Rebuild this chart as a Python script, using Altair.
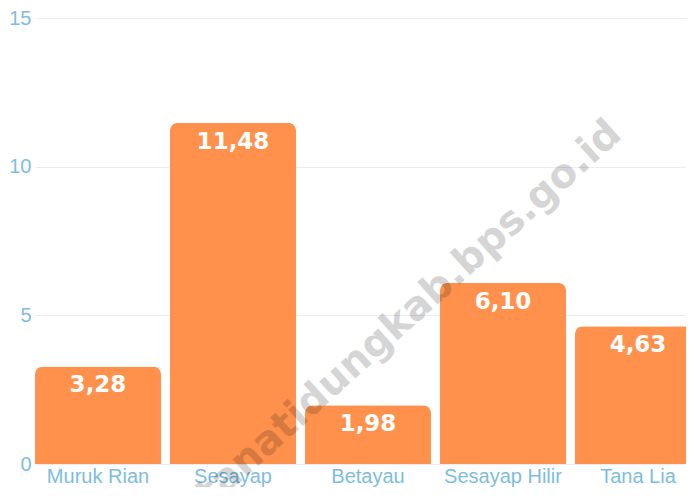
import altair as alt
import pandas as pd

categories = ["Muruk Rian", "Sesayap", "Betayau", "Sesayap Hilir", "Tana Lia"]
values = [3.28, 11.48, 1.98, 6.10, 4.63]
y_ticks = [0, 5, 10, 15]
watermark = ["tanatidungkab.bps.go.id"]

df = pd.DataFrame({
    "kecamatan": categories,
    "nilai": values,
    "label": [f"{v:.2f}".replace(".", ",") for v in values],
})

x_enc = alt.X(
    "kecamatan:N",
    sort=categories,
    title=None,
    scale=alt.Scale(range=[0, 666], paddingInner=0.0667, paddingOuter=0),
    axis=alt.Axis(
        labelAngle=0,
        labelFont="Liberation Sans",
        labelFontSize=20,
        labelColor="#7dbde0",
        labelPadding=2,
        ticks=False,
        domain=True,
        domainColor="#e3eef6",
        grid=False,
    ),
)
y_enc = alt.Y(
    "nilai:Q",
    title=None,
    scale=alt.Scale(domain=[0, 15], nice=False, zero=True),
    axis=alt.Axis(
        values=y_ticks,
        labelFont="Liberation Sans",
        labelFontSize=20,
        labelColor="#7dbde0",
        labelPadding=4,
        ticks=False,
        domain=False,
        grid=True,
        gridColor="#e6eef4",
        gridWidth=1,
    ),
)

base = alt.Chart(df)

bars = base.mark_bar(
    color="#ff914d",
    cornerRadiusTopLeft=8,
    cornerRadiusTopRight=8,
).encode(x=x_enc, y=y_enc)

labels = base.mark_text(
    color="white",
    font="DejaVu Sans",
    fontWeight="bold",
    fontSize=23,
    baseline="alphabetic",
    align="center",
    dy=26,
).encode(x=alt.X("kecamatan:N", sort=categories), y="nilai:Q", text="label:N")

wm = alt.Chart(pd.DataFrame({"t": watermark})).mark_text(
    font="DejaVu Sans",
    fontWeight="bold",
    fontSize=40,
    color="#000000",
    opacity=0.16,
    angle=318,
    align="center",
    baseline="middle",
).encode(x=alt.value(374), y=alt.value(296), text="t:N")

chart = alt.layer(bars, labels, wm).properties(
    width=651,
    height=446,
    autosize=alt.AutoSizeParams(type="none"),
    padding={"left": 27, "top": 10, "right": 0, "bottom": 23},
).configure_view(stroke=None)

chart.save("out.html", embed_options={"renderer": "svg", "actions": False})
